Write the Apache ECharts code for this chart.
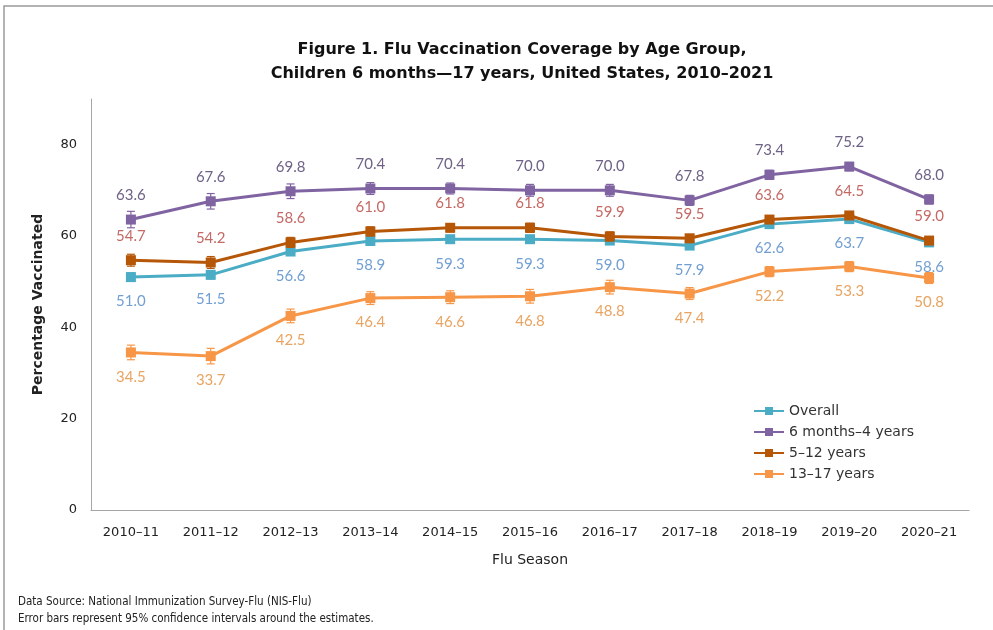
<!DOCTYPE html>
<html>
<head>
<meta charset="utf-8">
<script src="https://cdn.jsdelivr.net/npm/echarts@6/dist/echarts.min.js"></script>
<style>
  html, body { margin: 0; padding: 0; background: #fff; }
  #chart { width: 993px; height: 630px; }
</style>
</head>
<body>
<div id="chart"></div>
<script>
// flu seasons on the x axis
const seasons = ['2010–11', '2011–12', '2012–13', '2013–14', '2014–15', '2015–16', '2016–17', '2017–18', '2018–19', '2019–20', '2020–21']

// coverage estimates (%)
const overall = [51.0, 51.5, 56.6, 58.9, 59.3, 59.3, 59.0, 57.9, 62.6, 63.7, 58.6]
const months6to4 = [63.6, 67.6, 69.8, 70.4, 70.4, 70.0, 70.0, 67.8, 73.4, 75.2, 68.0]
const years5to12 = [54.7, 54.2, 58.6, 61.0, 61.8, 61.8, 59.9, 59.5, 63.6, 64.5, 59.0]
const years13to17 = [34.5, 33.7, 42.5, 46.4, 46.6, 46.8, 48.8, 47.4, 52.2, 53.3, 50.8]

// 95% CI half widths
const ciOverall = [0.9, 0.9, 0.8, 0.7, 0.6, 0.7, 0.7, 0.6, 0.5, 0.5, 0.6]
const ci6to4 = [1.8, 1.7, 1.6, 1.3, 1.2, 1.3, 1.3, 1.1, 1.0, 0.9, 1.0]
const ci5to12 = [1.3, 1.3, 1.1, 1.0, 0.9, 1.0, 1.0, 0.8, 0.7, 0.7, 0.8]
const ci13to17 = [1.6, 1.7, 1.5, 1.4, 1.4, 1.5, 1.5, 1.3, 1.1, 1.1, 1.2]

const yTicks = [0, 20, 40, 60, 80]

const FONT = 'DejaVu Sans'
const NARROW = "'Liberation Sans Narrow', 'DejaVu Sans Condensed', sans-serif"

const groups = [
  { name: 'Overall', data: overall, ci: ciOverall, color: '#4bacc6', label: '#729fd2', pos: 'bottom' },
  { name: '6 months–4 years', data: months6to4, ci: ci6to4, color: '#8064a2', label: '#6f6287', pos: 'top' },
  { name: '5–12 years', data: years5to12, ci: ci5to12, color: '#b65708', label: '#c46a66', pos: 'top' },
  { name: '13–17 years', data: years13to17, ci: ci13to17, color: '#f79646', label: '#e8a462', pos: 'bottom' }
]

const myChart = echarts.init(document.getElementById('chart'))

const series = []
groups.forEach((g, k) => {
  series.push({
    name: g.name,
    type: 'line',
    data: g.data,
    z: 3 + k,
    symbol: 'rect',
    symbolSize: 10,
    lineStyle: { width: 3, color: g.color },
    itemStyle: { color: g.color },
    label: {
      show: true,
      position: g.pos,
      distance: 12,
      color: g.label,
      fontFamily: 'Lato',
      fontSize: 15,
      formatter: (p) => p.value.toFixed(1)
    }
  })
  // error bars
  series.push({
    name: 'ci ' + g.name,
    type: 'custom',
    z: 3 + k,
    silent: true,
    data: g.data.map((v, i) => [i, v - g.ci[i], v + g.ci[i]]),
    renderItem: (params, api) => {
      const lo = api.coord([api.value(0), api.value(1)])
      const hi = api.coord([api.value(0), api.value(2)])
      const w = 4
      const style = { stroke: g.color, lineWidth: 1.2 }
      return {
        type: 'group',
        children: [
          { type: 'line', shape: { x1: lo[0], y1: lo[1], x2: hi[0], y2: hi[1] }, style },
          { type: 'line', shape: { x1: lo[0] - w, y1: lo[1], x2: lo[0] + w, y2: lo[1] }, style },
          { type: 'line', shape: { x1: hi[0] - w, y1: hi[1], x2: hi[0] + w, y2: hi[1] }, style }
        ]
      }
    }
  })
})

const option = {
  backgroundColor: '#fff',
  animation: false,
  title: {
    text: 'Figure 1. Flu Vaccination Coverage by Age Group,\nChildren 6 months—17 years, United States, 2010–2021',
    left: 517,
    textAlign: 'center',
    top: 33,
    textStyle: { fontFamily: FONT, fontWeight: 'bold', fontSize: 16, lineHeight: 24, color: '#111' }
  },
  graphic: [
    { type: 'rect', shape: { x: 4, y: 6, width: 1100, height: 700 }, style: { fill: 'none', stroke: '#9a9a9a', lineWidth: 1.5 } },
    {
      type: 'text', left: 18, top: 594,
      style: { text: 'Data Source: National Immunization Survey-Flu (NIS-Flu)\nError bars represent 95% confidence intervals around the estimates.', font: '11.5px ' + NARROW, fill: '#222', lineHeight: 17 }
    }
  ],
  legend: {
    data: groups.map(g => g.name),
    orient: 'vertical',
    left: 748,
    top: 399,
    itemWidth: 30,
    itemHeight: 10,
    itemGap: 7,
    textStyle: { fontFamily: FONT, fontSize: 14, color: '#333' }
  },
  grid: { left: 91, right: 24, top: 99, bottom: 120 },
  xAxis: {
    type: 'category',
    data: seasons,
    name: 'Flu Season',
    nameLocation: 'middle',
    nameGap: 43,
    nameTextStyle: { fontFamily: FONT, fontSize: 14, color: '#222' },
    axisLine: { lineStyle: { color: '#a6a6a6', width: 1 } },
    axisTick: { show: false },
    axisLabel: { fontFamily: FONT, fontSize: 13, color: '#222', margin: 16 }
  },
  yAxis: {
    type: 'value',
    min: 0,
    max: 90,
    interval: 20,
    name: 'Percentage Vaccinated',
    nameLocation: 'middle',
    nameGap: 46,
    nameTextStyle: { fontFamily: FONT, fontSize: 14, fontWeight: 'bold', color: '#222' },
    axisLine: { show: true, lineStyle: { color: '#a6a6a6', width: 1 } },
    axisTick: { show: false },
    splitLine: { show: false },
    axisLabel: {
      fontFamily: FONT, fontSize: 13, color: '#222', margin: 14,
      formatter: (v) => (yTicks.indexOf(v) >= 0 ? String(v) : '')
    }
  },
  series: series
}

option && myChart.setOption(option)
</script>
</body>
</html>
